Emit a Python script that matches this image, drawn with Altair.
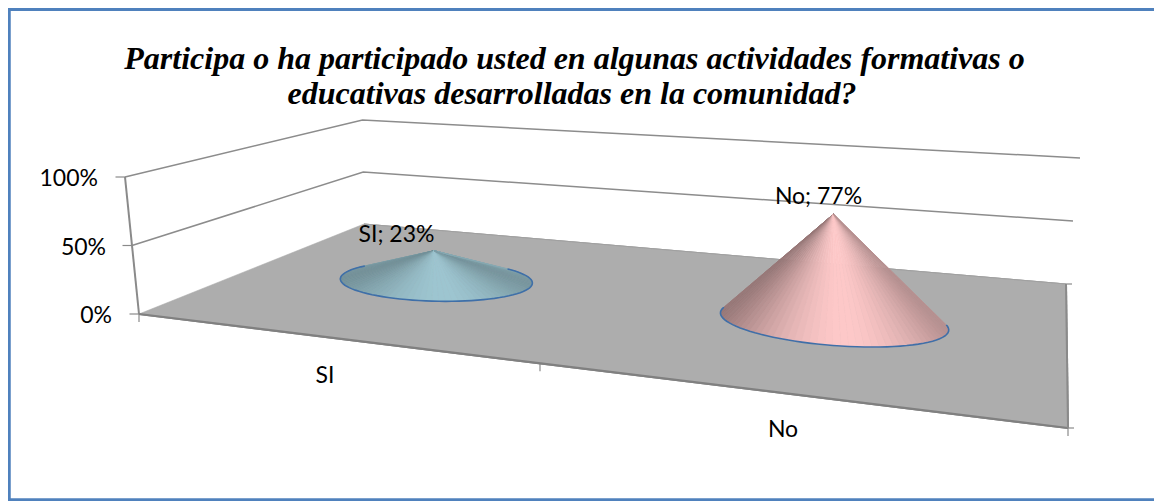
import math
import numpy as np
import pandas as pd
import altair as alt

TITLE = ["Participa o ha participado usted en algunas actividades formativas o",
         "educativas desarrolladas en la comunidad?"]
categories = ["SI", "No"]
values = [23, 77]
tick_values = [0, 50, 100]
light = [(158, 198, 209), (254, 201, 201)]
shade_low = [(0.74, 0.76), (0.60, 0.72)]

W, H = 1146, 493
PAGE_R = 8 + W
FLOOR = "#adadad"
AXIS = "#8a8a8a"
FRAME = "#4f81bd"
OUT = "#3f6fa8"

# projection of the 3-D box: floor corners on screen (u, d) -> pixels
FL, FR, BR, BL = (139, 314), (1068, 428), (1066, 284), (364, 224)
TOP_L, TOP_B, TOP_R = (125, 177), (362.5, 120), (1080, 158)


def homography(src, dst):
    A, b = [], []
    for (u, v), (x, y) in zip(src, dst):
        A.append([u, v, 1, 0, 0, 0, -u * x, -v * x]); b.append(x)
        A.append([0, 0, 0, u, v, 1, -u * y, -v * y]); b.append(y)
    h = np.linalg.solve(np.array(A, float), np.array(b, float))
    return np.append(h, 1).reshape(3, 3)


M = homography([(0, 0), (1, 0), (1, 1), (0, 1)], [FL, FR, BR, BL])


def floor(u, d):
    p = M @ np.array([u, d, 1.0])
    return p[0] / p[2], p[1] / p[2]


def height_px(u, d):
    return (1 - u) * (1 - d) * 1.37 + u * (1 - d) * 1.59 + u * d * 1.26 + (1 - u) * d * 1.04


def wall(a, b, v):
    return (a[0] + (b[0] - a[0]) * v / 100, a[1] + (b[1] - a[1]) * v / 100)


def polygon_rows(pts, pid, color):
    """Convex polygon -> rows of an area mark (x, y, y2) grouped by id."""
    n = len(pts)
    rows = []
    for x in sorted({p[0] for p in pts}):
        ys = []
        for i in range(n):
            (x0, y0), (x1, y1) = pts[i], pts[(i + 1) % n]
            if min(x0, x1) <= x <= max(x0, x1):
                if x0 == x1:
                    ys += [y0, y1]
                else:
                    ys.append(y0 + (y1 - y0) * (x - x0) / (x1 - x0))
        rows.append(dict(x=x, y=min(ys), y2=max(ys), id=pid, c=color))
    return rows


def line_rows(pts, pid, color, w):
    return [dict(x=p[0], y=p[1], o=i, id=pid, c=color, w=w) for i, p in enumerate(pts)]


RU, RD = 0.127, 0.185
cells = []
arcs = []
for ci, (cat, val) in enumerate(zip(categories, values)):
    uc = (ci + 0.5) / len(categories) + 0.002
    dc = 0.5
    cx, cy = floor(uc, dc)
    apex = (cx + (uc - 0.5) * 6, cy - val * height_px(uc, dc))
    N = 96
    ts = [2 * math.pi * i / N for i in range(N + 1)]
    rim = [floor(uc + RU * math.cos(t), dc + RD * math.sin(t)) for t in ts]
    xs = [p[0] for p in rim]
    mid, half = (max(xs) + min(xs)) / 2, (max(xs) - min(xs)) / 2
    visible = []
    for i in range(N):
        p0, p1 = rim[i], rim[i + 1]
        cross = (p0[0] - apex[0]) * (p1[1] - p0[1]) - (p0[1] - apex[1]) * (p1[0] - p0[0])
        is_front = cross < 0
        visible.append(is_front)
        if not is_front:
            continue
        s = ((p0[0] + p1[0]) / 2 - mid) / half - 0.1
        lo = shade_low[ci][0 if s < 0 else 1]
        b = 1 - (1 - lo) * min(1.0, abs(s) / (1.1 if s < 0 else 0.9)) ** 1.8
        col = "#%02x%02x%02x" % tuple(int(c * b) for c in light[ci])
        cells += polygon_rows([apex, p0, p1], f"c{ci}-{i}", col)
    start = next(i for i in range(N) if visible[i] and not visible[i - 1])
    arc = []
    j = start
    while visible[j % N] and len(arc) < N:
        arc.append(rim[j % N])
        j += 1
    arc.append(rim[j % N])
    arcs += line_rows(arc, f"rim{ci}", OUT, 1.6)

lines = []
lines += line_rows([wall(FL, TOP_L, 100), wall(BL, TOP_B, 100), TOP_R], "g100", "#8c8c8c", 1.5)
lines += line_rows([wall(FL, TOP_L, 50), wall(BL, TOP_B, 50), wall(BR, TOP_R, 50)], "g50", "#8c8c8c", 1.5)
lines += line_rows([BL, BR], "backedge", "#a0a0a0", 1)
lines += line_rows([FL, TOP_L], "yaxis", AXIS, 2)
lines += line_rows([FL, FR], "xaxis", "#808080", 2.2)
lines += line_rows([BR, FR], "side", AXIS, 2)
for v in tick_values:
    p = wall(FL, TOP_L, v)
    lines += line_rows([(p[0] - 9.5, p[1]), p], f"yt{v}", AXIS, 1.2)
for i in range(len(categories) + 1):
    p = floor(i / len(categories), 0)
    lines += line_rows([p, (p[0], p[1] + 8)], f"xt{i}", AXIS, 1.2)
lines += line_rows([FR, (FR[0] + 6, FR[1])], "rt0", AXIS, 1.2)
lines += line_rows([BR, (BR[0] + 6, BR[1])], "rt1", AXIS, 1.2)

frame = []
frame += line_rows([(9, 8), (9, 501)], "fl", FRAME, 3.5)
frame += line_rows([(8, 9.5), (PAGE_R, 9.5)], "ft", FRAME, 3)
frame += line_rows([(8, 499.7), (PAGE_R, 499.7)], "fb", FRAME, 2.8)

texts = []
for v, (tx, ty) in zip(tick_values, [(112, 316), (106, 248), (98, 179)]):
    texts.append(dict(x=tx, y=ty, t=f"{v}%", a="right"))
for cat, val, (dx, dy), (lx, ly) in zip(categories, values,
                                        [(396.5, 235), (818.5, 197)],
                                        [(325, 376), (783, 430)]):
    texts.append(dict(x=dx, y=dy, t=f"{cat}; {val}%", a="center"))
    texts.append(dict(x=lx, y=ly, t=cat, a="center"))

XS = alt.Scale(domain=[8, PAGE_R], nice=False, zero=False)
X = alt.X("x:Q", axis=None, scale=XS)
Y = alt.Y("y:Q", axis=None, scale=alt.Scale(domain=[501, 8], nice=False, zero=False))


def area_layer(rows):
    return alt.Chart(pd.DataFrame(rows)).mark_area(opacity=1, strokeWidth=0.6, interpolate="linear").encode(
        x=X, y=Y, y2="y2:Q", detail="id:N",
        fill=alt.Fill("c:N", scale=None), stroke=alt.Stroke("c:N", scale=None))


def line_layer(rows):
    return alt.Chart(pd.DataFrame(rows)).mark_line(interpolate="linear", strokeCap="butt").encode(
        x=alt.X("x:Q", axis=None, sort=None, scale=XS),
        y=Y, order="o:Q", detail="id:N",
        stroke=alt.Stroke("c:N", scale=None),
        strokeWidth=alt.StrokeWidth("w:Q", scale=None))


floor_layer = area_layer(polygon_rows([FL, FR, BR, BL], "floor", FLOOR))
text_df = pd.DataFrame(texts)
text_layers = [alt.Chart(text_df[text_df.a == a]).mark_text(
    font="Lato", fontSize=23, align=a, baseline="middle", color="black").encode(x=X, y=Y, text="t:N")
    for a in ["right", "center"]]
title_df = pd.DataFrame(dict(x=[574.5, 572], y=[59, 94], t=TITLE))
title_layer = alt.Chart(title_df).mark_text(
    font="Liberation Serif", fontSize=32, fontStyle="italic", fontWeight="bold",
    align="center", baseline="middle", color="black").encode(x=X, y=Y, text="t:N")

chart = alt.layer(
    line_layer(frame), line_layer(lines), floor_layer,
    line_layer([r for r in lines if r["id"] in ("xaxis", "side", "backedge")]),
    area_layer(cells), line_layer(arcs), *text_layers, title_layer,
).properties(width=W, height=H, padding=0, autosize=alt.AutoSizeParams(type="none"), background="white"
).configure_view(stroke=None)

chart.save("out.html", embed_options={"renderer": "svg", "actions": False})
